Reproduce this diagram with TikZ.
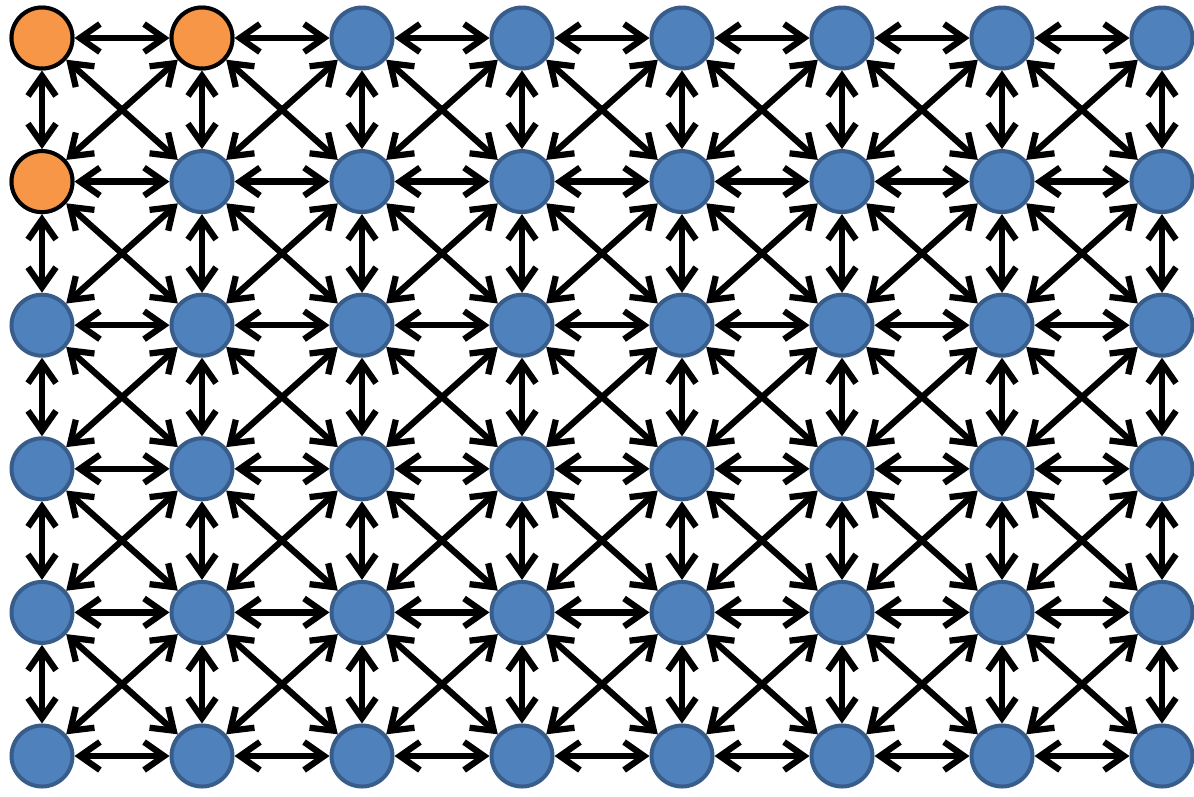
\documentclass[tikz,border=0pt]{standalone}
\usetikzlibrary{arrows.meta}

\definecolor{bluefill}{HTML}{4F81BD}
\definecolor{blueline}{HTML}{385D8A}
\definecolor{orangefill}{HTML}{F79646}

\tikzset{
  dot/.style={circle, minimum size=1.22cm, inner sep=0pt, line width=0.08cm, draw=blueline, fill=bluefill},
  hot/.style={dot, draw=black, fill=orangefill},
  link/.style={{Straight Barb[length=0.4cm,width=0.56cm]}-{Straight Barb[length=0.4cm,width=0.56cm]}, line width=0.125cm, line cap=round}
}

\begin{document}
\begin{tikzpicture}
\def\dx{3.2}
\def\dy{2.872}

\useasboundingbox (0,0) rectangle (23.88,-15.92);

% grid of nodes
\foreach \i in {0,...,7} {
  \foreach \j in {0,...,5} {
    \node[dot] (n-\i-\j) at ({0.84+\dx*\i},{-0.76-\dy*\j}) {};
  }
}
\node[hot] at (n-0-0) {};
\node[hot] at (n-1-0) {};
\node[hot] at (n-0-1) {};

% horizontal and diagonal links
\foreach \i in {1,...,7} {
  \pgfmathtruncatemacro{\p}{\i-1}
  \foreach \j in {0,...,5} {
    \draw[link] (n-\p-\j) -- (n-\i-\j);
  }
  \foreach \j in {1,...,5} {
    \pgfmathtruncatemacro{\q}{\j-1}
    \draw[link] (n-\p-\q) -- (n-\i-\j);
    \draw[link] (n-\p-\j) -- (n-\i-\q);
  }
}

% vertical links
\foreach \i in {0,...,7} {
  \foreach \j in {1,...,5} {
    \pgfmathtruncatemacro{\q}{\j-1}
    \draw[link] (n-\i-\q) -- (n-\i-\j);
  }
}
\end{tikzpicture}
\end{document}
